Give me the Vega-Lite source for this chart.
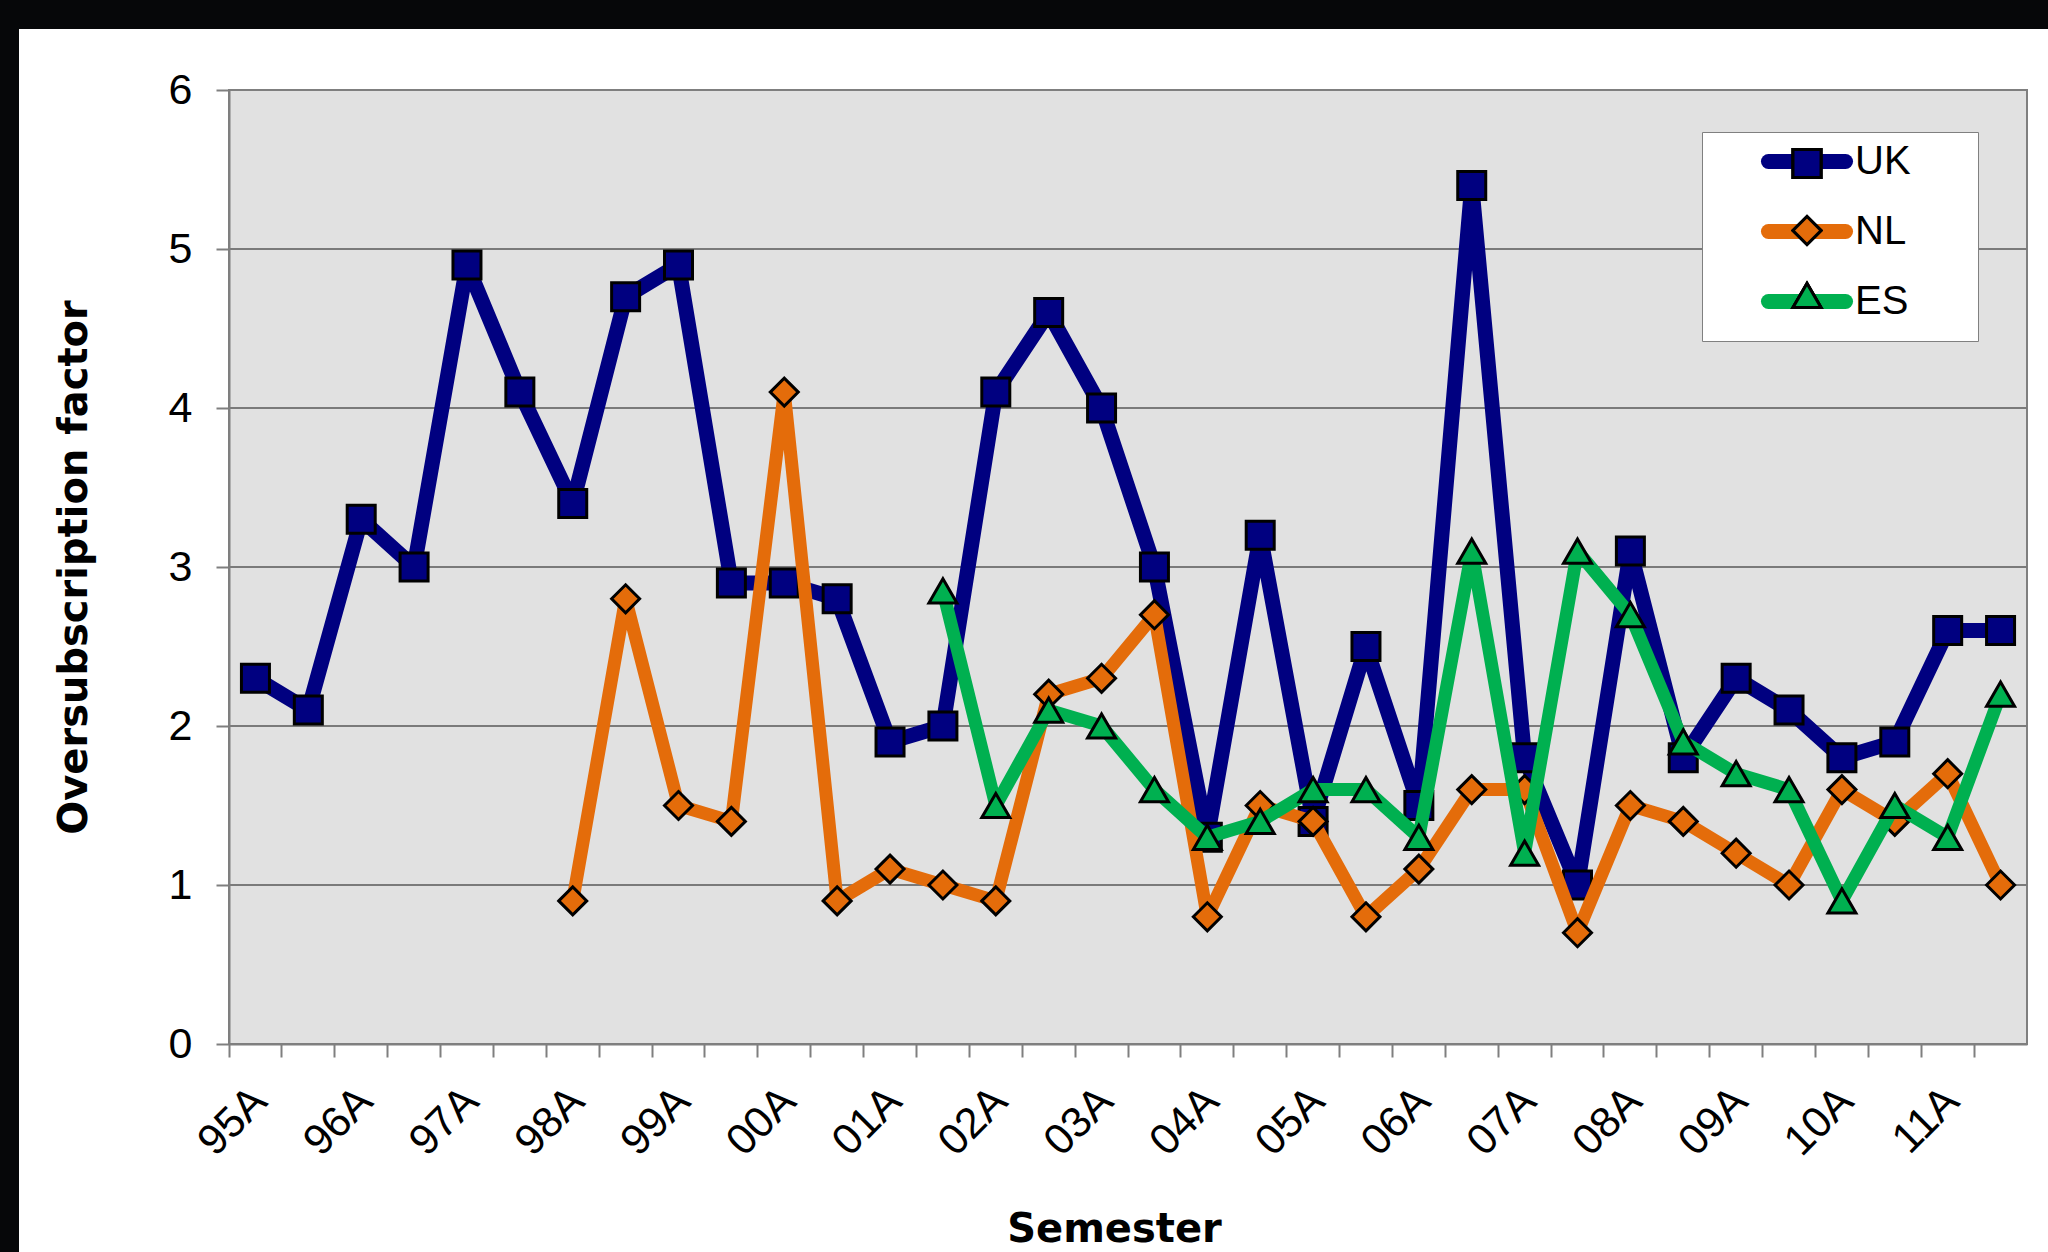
{
  "$schema": "https://vega.github.io/schema/vega-lite/v6.json",
  "width": 1798,
  "height": 954,
  "autosize": {"type": "none"},
  "padding": {"left": 229, "top": 90, "right": 21, "bottom": 208},
  "background": "#060709",
  "config": {"view": {"stroke": null}},
  "data": {
    "values": [
      {"semester": "95A", "country": "UK", "value": 2.3},
      {"semester": "95B", "country": "UK", "value": 2.1},
      {"semester": "96A", "country": "UK", "value": 3.3},
      {"semester": "96B", "country": "UK", "value": 3.0},
      {"semester": "97A", "country": "UK", "value": 4.9},
      {"semester": "97B", "country": "UK", "value": 4.1},
      {"semester": "98A", "country": "UK", "value": 3.4},
      {"semester": "98B", "country": "UK", "value": 4.7},
      {"semester": "99A", "country": "UK", "value": 4.9},
      {"semester": "99B", "country": "UK", "value": 2.9},
      {"semester": "00A", "country": "UK", "value": 2.9},
      {"semester": "00B", "country": "UK", "value": 2.8},
      {"semester": "01A", "country": "UK", "value": 1.9},
      {"semester": "01B", "country": "UK", "value": 2.0},
      {"semester": "02A", "country": "UK", "value": 4.1},
      {"semester": "02B", "country": "UK", "value": 4.6},
      {"semester": "03A", "country": "UK", "value": 4.0},
      {"semester": "03B", "country": "UK", "value": 3.0},
      {"semester": "04A", "country": "UK", "value": 1.3},
      {"semester": "04B", "country": "UK", "value": 3.2},
      {"semester": "05A", "country": "UK", "value": 1.4},
      {"semester": "05B", "country": "UK", "value": 2.5},
      {"semester": "06A", "country": "UK", "value": 1.5},
      {"semester": "06B", "country": "UK", "value": 5.4},
      {"semester": "07A", "country": "UK", "value": 1.8},
      {"semester": "07B", "country": "UK", "value": 1.0},
      {"semester": "08A", "country": "UK", "value": 3.1},
      {"semester": "08B", "country": "UK", "value": 1.8},
      {"semester": "09A", "country": "UK", "value": 2.3},
      {"semester": "09B", "country": "UK", "value": 2.1},
      {"semester": "10A", "country": "UK", "value": 1.8},
      {"semester": "10B", "country": "UK", "value": 1.9},
      {"semester": "11A", "country": "UK", "value": 2.6},
      {"semester": "11B", "country": "UK", "value": 2.6},
      {"semester": "98A", "country": "NL", "value": 0.9},
      {"semester": "98B", "country": "NL", "value": 2.8},
      {"semester": "99A", "country": "NL", "value": 1.5},
      {"semester": "99B", "country": "NL", "value": 1.4},
      {"semester": "00A", "country": "NL", "value": 4.1},
      {"semester": "00B", "country": "NL", "value": 0.9},
      {"semester": "01A", "country": "NL", "value": 1.1},
      {"semester": "01B", "country": "NL", "value": 1.0},
      {"semester": "02A", "country": "NL", "value": 0.9},
      {"semester": "02B", "country": "NL", "value": 2.2},
      {"semester": "03A", "country": "NL", "value": 2.3},
      {"semester": "03B", "country": "NL", "value": 2.7},
      {"semester": "04A", "country": "NL", "value": 0.8},
      {"semester": "04B", "country": "NL", "value": 1.5},
      {"semester": "05A", "country": "NL", "value": 1.4},
      {"semester": "05B", "country": "NL", "value": 0.8},
      {"semester": "06A", "country": "NL", "value": 1.1},
      {"semester": "06B", "country": "NL", "value": 1.6},
      {"semester": "07A", "country": "NL", "value": 1.6},
      {"semester": "07B", "country": "NL", "value": 0.7},
      {"semester": "08A", "country": "NL", "value": 1.5},
      {"semester": "08B", "country": "NL", "value": 1.4},
      {"semester": "09A", "country": "NL", "value": 1.2},
      {"semester": "09B", "country": "NL", "value": 1.0},
      {"semester": "10A", "country": "NL", "value": 1.6},
      {"semester": "10B", "country": "NL", "value": 1.4},
      {"semester": "11A", "country": "NL", "value": 1.7},
      {"semester": "11B", "country": "NL", "value": 1.0},
      {"semester": "01B", "country": "ES", "value": 2.85},
      {"semester": "02A", "country": "ES", "value": 1.5},
      {"semester": "02B", "country": "ES", "value": 2.1},
      {"semester": "03A", "country": "ES", "value": 2.0},
      {"semester": "03B", "country": "ES", "value": 1.6},
      {"semester": "04A", "country": "ES", "value": 1.3},
      {"semester": "04B", "country": "ES", "value": 1.4},
      {"semester": "05A", "country": "ES", "value": 1.6},
      {"semester": "05B", "country": "ES", "value": 1.6},
      {"semester": "06A", "country": "ES", "value": 1.3},
      {"semester": "06B", "country": "ES", "value": 3.1},
      {"semester": "07A", "country": "ES", "value": 1.2},
      {"semester": "07B", "country": "ES", "value": 3.1},
      {"semester": "08A", "country": "ES", "value": 2.7},
      {"semester": "08B", "country": "ES", "value": 1.9},
      {"semester": "09A", "country": "ES", "value": 1.7},
      {"semester": "09B", "country": "ES", "value": 1.6},
      {"semester": "10A", "country": "ES", "value": 0.9},
      {"semester": "10B", "country": "ES", "value": 1.5},
      {"semester": "11A", "country": "ES", "value": 1.3},
      {"semester": "11B", "country": "ES", "value": 2.2}
    ]
  },
  "layer": [
    {
      "data": {"values": [{"panel": "white"}]},
      "mark": {"type": "rect", "fill": "#ffffff", "stroke": "#ffffff", "strokeWidth": 420},
      "encoding": {
        "y": {
          "datum": 0,
          "type": "quantitative",
          "scale": {"domain": [0, 6], "nice": false, "zero": true},
          "axis": {
            "title": "Oversubscription factor",
            "titleFont": "DejaVu Sans",
            "titleFontWeight": "bold",
            "titleFontSize": 40,
            "titleColor": "#000000",
            "titlePadding": 74,
            "labelFont": "Liberation Sans",
            "labelFontSize": 43,
            "labelColor": "#000000",
            "labelPadding": 24,
            "values": [0, 1, 2, 3, 4, 5, 6],
            "format": "d",
            "tickSize": 13,
            "tickWidth": 2,
            "tickColor": "#7f7f7f",
            "domainColor": "#7f7f7f",
            "domainWidth": 2,
            "grid": false,
            "zindex": 1
          }
        },
        "y2": {"datum": 5.063}
      }
    },
    {
      "data": {"values": [{"panel": "plot"}]},
      "mark": {"type": "rect", "fill": "#e1e1e1", "stroke": "#7f7f7f", "strokeWidth": 2},
      "encoding": {
        "y": {"datum": 0, "type": "quantitative"},
        "y2": {"datum": 6}
      }
    },
    {
      "data": {"values": [{"level": 1}, {"level": 2}, {"level": 3}, {"level": 4}, {"level": 5}]},
      "mark": {"type": "rule", "color": "#7a7a7a", "strokeWidth": 2},
      "encoding": {
        "y": {"field": "level", "type": "quantitative"}
      }
    },
    {
      "transform": [{"filter": "datum.country == 'UK'"}],
      "mark": {"type": "line", "strokeJoin": "round", "strokeWidth": 15},
      "encoding": {
        "x": {
          "field": "semester",
          "type": "nominal",
          "scale": {
            "type": "band",
            "paddingInner": 0,
            "paddingOuter": 0,
            "domain": ["95A","95B","96A","96B","97A","97B","98A","98B","99A","99B","00A","00B","01A","01B","02A","02B","03A","03B","04A","04B","05A","05B","06A","06B","07A","07B","08A","08B","09A","09B","10A","10B","11A","11B"]
          },
          "axis": {
            "title": "Semester",
            "titleFont": "DejaVu Sans",
            "titleFontWeight": "bold",
            "titleFontSize": 40,
            "titleColor": "#000000",
            "titlePadding": 46,
            "titleX": 885,
            "labelFont": "Liberation Sans",
            "labelFontSize": 43,
            "labelColor": "#000000",
            "labelAngle": -45,
            "labelAlign": "right",
            "labelBaseline": "middle",
            "labelPadding": 37,
            "labelOffset": 4.5,
            "labelOverlap": false,
            "labelBound": false,
            "labelFlush": false,
            "bandPosition": 0,
            "labelExpr": "indexof(datum.label, 'B') >= 0 ? '' : datum.label",
            "tickSize": 13,
            "tickWidth": 2,
            "tickColor": "#7f7f7f",
            "domainColor": "#7f7f7f",
            "domainWidth": 2,
            "grid": false,
            "zindex": 1
          }
        },
        "y": {"field": "value", "type": "quantitative", "title": "Oversubscription factor"},
        "stroke": {
          "field": "country",
          "type": "nominal",
          "scale": {"domain": ["UK", "NL", "ES"], "range": ["#000080", "#e46c0a", "#00b050"]},
          "legend": {
            "orient": "none",
            "legendX": 1473,
            "legendY": 42,
            "title": null,
            "padding": 9,
            "fillColor": "#ffffff",
            "strokeColor": "#808080",
            "symbolType": "M-3,0L3,0M10.2,0",
            "symbolSize": 660,
            "symbolStrokeWidth": 15,
            "symbolOffset": 75.5,
            "labelOffset": 27.5,
            "rowPadding": 9,
            "labelFont": "Liberation Sans",
            "labelFontSize": 40,
            "labelColor": "#000000",
            "encode": {"symbols": {"update": {"strokeCap": {"value": "round"}}}}
          }
        },
        "order": {"value": null}
      }
    },
    {
      "transform": [{"filter": "datum.country == 'UK'"}],
      "mark": {"type": "point", "filled": true, "opacity": 1, "size": 784, "stroke": "#000000", "strokeWidth": 3, "strokeOpacity": 1},
      "encoding": {
        "x": {"field": "semester", "type": "nominal"},
        "y": {"field": "value", "type": "quantitative", "title": "Oversubscription factor"},
        "fill": {
          "field": "country",
          "type": "nominal",
          "scale": {"domain": ["UK", "NL", "ES"], "range": ["#000080", "#e46c0a", "#00b050"]},
          "legend": {"orient": "none", "legendX": 1562.5, "legendY": 58, "title": null, "padding": 0, "symbolSize": 784, "symbolStrokeColor": "#000000", "symbolStrokeWidth": 3, "symbolOpacity": 1, "rowPadding": 26, "labelFontSize": 10, "labelExpr": "''", "encode": {"symbols": {"update": {"stroke": {"value": "#000000"}, "strokeWidth": {"value": 3}, "opacity": {"value": 1}}}}}
        },
        "shape": {
          "field": "country",
          "type": "nominal",
          "scale": {"domain": ["UK", "NL", "ES"], "range": ["square", "diamond", "triangle-up"]},
          "legend": {"orient": "none", "legendX": 1562.5, "legendY": 58, "title": null, "padding": 0, "symbolSize": 784, "symbolStrokeColor": "#000000", "symbolStrokeWidth": 3, "symbolOpacity": 1, "rowPadding": 26, "labelFontSize": 10, "labelExpr": "''", "encode": {"symbols": {"update": {"stroke": {"value": "#000000"}, "strokeWidth": {"value": 3}, "opacity": {"value": 1}}}}}
        }
      }
    },
    {
      "transform": [{"filter": "datum.country == 'NL'"}],
      "mark": {"type": "line", "strokeJoin": "round", "strokeWidth": 13},
      "encoding": {
        "x": {"field": "semester", "type": "nominal"},
        "y": {"field": "value", "type": "quantitative", "title": "Oversubscription factor"},
        "stroke": {"field": "country", "type": "nominal"},
        "order": {"value": null}
      }
    },
    {
      "transform": [{"filter": "datum.country == 'NL'"}],
      "mark": {"type": "point", "filled": true, "opacity": 1, "size": 784, "stroke": "#000000", "strokeWidth": 3, "strokeOpacity": 1},
      "encoding": {
        "x": {"field": "semester", "type": "nominal"},
        "y": {"field": "value", "type": "quantitative", "title": "Oversubscription factor"},
        "fill": {
          "field": "country",
          "type": "nominal",
          "legend": {"orient": "none", "legendX": 1562.5, "legendY": 58, "title": null, "padding": 0, "symbolSize": 784, "symbolStrokeColor": "#000000", "symbolStrokeWidth": 3, "symbolOpacity": 1, "rowPadding": 26, "labelFontSize": 10, "labelExpr": "''", "encode": {"symbols": {"update": {"stroke": {"value": "#000000"}, "strokeWidth": {"value": 3}, "opacity": {"value": 1}}}}}
        },
        "shape": {
          "field": "country",
          "type": "nominal",
          "legend": {"orient": "none", "legendX": 1562.5, "legendY": 58, "title": null, "padding": 0, "symbolSize": 784, "symbolStrokeColor": "#000000", "symbolStrokeWidth": 3, "symbolOpacity": 1, "rowPadding": 26, "labelFontSize": 10, "labelExpr": "''", "encode": {"symbols": {"update": {"stroke": {"value": "#000000"}, "strokeWidth": {"value": 3}, "opacity": {"value": 1}}}}}
        }
      }
    },
    {
      "transform": [{"filter": "datum.country == 'ES'"}],
      "mark": {"type": "line", "strokeJoin": "round", "strokeWidth": 13},
      "encoding": {
        "x": {"field": "semester", "type": "nominal"},
        "y": {"field": "value", "type": "quantitative", "title": "Oversubscription factor"},
        "stroke": {"field": "country", "type": "nominal"},
        "order": {"value": null}
      }
    },
    {
      "transform": [{"filter": "datum.country == 'ES'"}],
      "mark": {"type": "point", "filled": true, "opacity": 1, "size": 784, "stroke": "#000000", "strokeWidth": 3, "strokeOpacity": 1},
      "encoding": {
        "x": {"field": "semester", "type": "nominal"},
        "y": {"field": "value", "type": "quantitative", "title": "Oversubscription factor"},
        "fill": {
          "field": "country",
          "type": "nominal",
          "legend": {"orient": "none", "legendX": 1562.5, "legendY": 58, "title": null, "padding": 0, "symbolSize": 784, "symbolStrokeColor": "#000000", "symbolStrokeWidth": 3, "symbolOpacity": 1, "rowPadding": 26, "labelFontSize": 10, "labelExpr": "''", "encode": {"symbols": {"update": {"stroke": {"value": "#000000"}, "strokeWidth": {"value": 3}, "opacity": {"value": 1}}}}}
        },
        "shape": {
          "field": "country",
          "type": "nominal",
          "legend": {"orient": "none", "legendX": 1562.5, "legendY": 58, "title": null, "padding": 0, "symbolSize": 784, "symbolStrokeColor": "#000000", "symbolStrokeWidth": 3, "symbolOpacity": 1, "rowPadding": 26, "labelFontSize": 10, "labelExpr": "''", "encode": {"symbols": {"update": {"stroke": {"value": "#000000"}, "strokeWidth": {"value": 3}, "opacity": {"value": 1}}}}}
        }
      }
    }
  ],
  "resolve": {"legend": {"fill": "independent", "shape": "independent"}}
}
